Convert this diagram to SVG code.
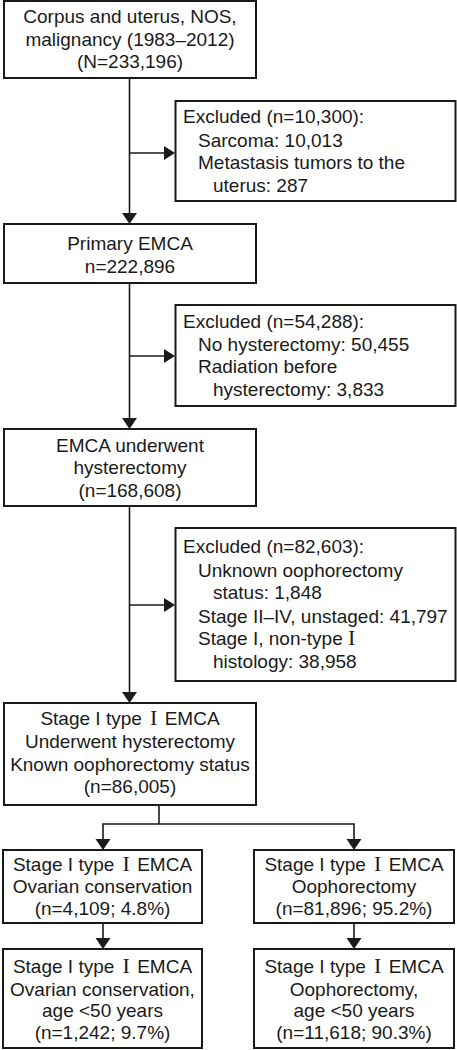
<svg xmlns="http://www.w3.org/2000/svg" width="457" height="1050" viewBox="0 0 457 1050">
<style>
.box{fill:#fff;stroke:#1a1a1a;stroke-width:2}
.ln{fill:none;stroke:#1a1a1a;stroke-width:1.6}
.ah{fill:#1a1a1a}
text{font-family:"Liberation Sans",Arial,sans-serif;font-size:19px;fill:#1a1a1a}
.c{text-anchor:middle}
.r{font-family:"Liberation Serif","Times New Roman",serif;font-size:22px}
</style>
<rect width="457" height="1050" fill="#fff"/>
<g id="connectors">
<line class="ln" x1="129.5" y1="78" x2="129.5" y2="214"/>
<polygon class="ah" points="122,213 137,213 129.5,224"/>
<line class="ln" x1="129.5" y1="153" x2="165" y2="153"/>
<polygon class="ah" points="164,146 164,160 175,153"/>
<line class="ln" x1="129.5" y1="283" x2="129.5" y2="419"/>
<polygon class="ah" points="122,418 137,418 129.5,429"/>
<line class="ln" x1="129.5" y1="356" x2="165" y2="356"/>
<polygon class="ah" points="164,349 164,363 175,356"/>
<line class="ln" x1="129.5" y1="506" x2="129.5" y2="693"/>
<polygon class="ah" points="122,692 137,692 129.5,703"/>
<line class="ln" x1="129.5" y1="605" x2="165" y2="605"/>
<polygon class="ah" points="164,598 164,612 175,605"/>
<polyline class="ln" points="159,805 159,824"/>
<polyline class="ln" points="103,840 103,824 354,824 354,840"/>
<polygon class="ah" points="95.5,839 110.5,839 103,850"/>
<polygon class="ah" points="346.5,839 361.5,839 354,850"/>
<line class="ln" x1="103" y1="923" x2="103" y2="939"/>
<polygon class="ah" points="95.5,938 110.5,938 103,949"/>
<line class="ln" x1="354" y1="923" x2="354" y2="939"/>
<polygon class="ah" points="346.5,938 361.5,938 354,949"/>
</g>
<g id="n1">
<rect class="box" x="4" y="1" width="252" height="77"/>
<text class="c" x="130" y="23">Corpus and uterus, NOS,</text>
<text class="c" x="130" y="46">malignancy (1983–2012)</text>
<text class="c" x="130" y="68">(N=233,196)</text>
</g>
<g id="ex1">
<rect class="box" x="175.5" y="101" width="280" height="100"/>
<text x="183" y="123">Excluded (n=10,300):</text>
<text x="198" y="147">Sarcoma: 10,013</text>
<text x="198" y="169">Metastasis tumors to the</text>
<text x="213" y="192">uterus: 287</text>
</g>
<g id="n2">
<rect class="box" x="4" y="224" width="252" height="59"/>
<text class="c" x="130" y="250">Primary EMCA</text>
<text class="c" x="130" y="273">n=222,896</text>
</g>
<g id="ex2">
<rect class="box" x="175.5" y="305" width="280" height="101"/>
<text x="183" y="328">Excluded (n=54,288):</text>
<text x="198" y="351">No hysterectomy: 50,455</text>
<text x="198" y="373">Radiation before</text>
<text x="213" y="396">hysterectomy: 3,833</text>
</g>
<g id="n3">
<rect class="box" x="4" y="429" width="252" height="77"/>
<text class="c" x="130" y="452">EMCA underwent</text>
<text class="c" x="130" y="474">hysterectomy</text>
<text class="c" x="130" y="497">(n=168,608)</text>
</g>
<g id="ex3">
<rect class="box" x="175.5" y="528" width="280" height="153"/>
<text x="183" y="553">Excluded (n=82,603):</text>
<text x="198" y="577">Unknown oophorectomy</text>
<text x="213" y="599">status: 1,848</text>
<text x="198" y="623">Stage II–IV, unstaged: 41,797</text>
<text x="198" y="645">Stage I, non-type <tspan class="r">I</tspan></text>
<text x="213" y="668">histology: 38,958</text>
</g>
<g id="n4">
<rect class="box" x="4" y="703" width="252" height="102"/>
<text class="c" x="130" y="725">Stage I type <tspan class="r" dx="3">I</tspan><tspan dx="2"> EMCA</tspan></text>
<text class="c" x="130" y="748">Underwent hysterectomy</text>
<text class="c" x="130" y="771">Known oophorectomy status</text>
<text class="c" x="130" y="793">(n=86,005)</text>
</g>
<g id="n5">
<rect class="box" x="3" y="850" width="199" height="73"/>
<text class="c" x="102.5" y="871">Stage I type <tspan class="r" dx="3">I</tspan><tspan dx="2"> EMCA</tspan></text>
<text class="c" x="102.5" y="893">Ovarian conservation</text>
<text class="c" x="102.5" y="915">(n=4,109; 4.8%)</text>
</g>
<g id="n6">
<rect class="box" x="254" y="850" width="200" height="73"/>
<text class="c" x="354" y="871">Stage I type <tspan class="r" dx="3">I</tspan><tspan dx="2"> EMCA</tspan></text>
<text class="c" x="354" y="893">Oophorectomy</text>
<text class="c" x="354" y="915">(n=81,896; 95.2%)</text>
</g>
<g id="n7">
<rect class="box" x="3" y="949" width="199" height="99"/>
<text class="c" x="102.5" y="973">Stage I type <tspan class="r" dx="3">I</tspan><tspan dx="2"> EMCA</tspan></text>
<text class="c" x="102.5" y="996">Ovarian conservation,</text>
<text class="c" x="102.5" y="1017">age &lt;50 years</text>
<text class="c" x="102.5" y="1039">(n=1,242; 9.7%)</text>
</g>
<g id="n8">
<rect class="box" x="254" y="949" width="200" height="99"/>
<text class="c" x="354" y="973">Stage I type <tspan class="r" dx="3">I</tspan><tspan dx="2"> EMCA</tspan></text>
<text class="c" x="354" y="996">Oophorectomy,</text>
<text class="c" x="354" y="1017">age &lt;50 years</text>
<text class="c" x="354" y="1039">(n=11,618; 90.3%)</text>
</g>
</svg>
